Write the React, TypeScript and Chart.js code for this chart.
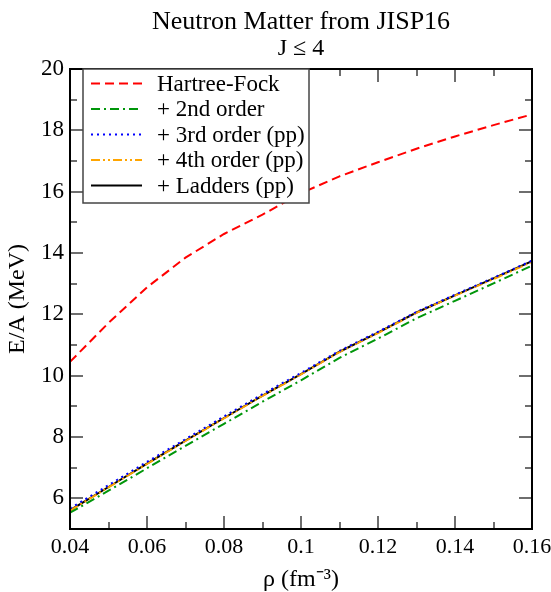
import React, { useEffect, useRef } from "react";
import { Chart, registerables } from "chart.js";

Chart.register(...registerables);

const density = [0.04, 0.05, 0.06, 0.07, 0.08, 0.09, 0.1, 0.11, 0.12, 0.13, 0.14, 0.15, 0.16];
const hartreeFock = [10.45, 11.72, 12.88, 13.85, 14.62, 15.25, 15.95, 16.5, 16.96, 17.4, 17.8, 18.17, 18.52];
const secondOrder = [5.53, 6.25, 6.98, 7.71, 8.43, 9.15, 9.85, 10.58, 11.21, 11.87, 12.44, 13.01, 13.59];
const thirdOrderPP = [5.67, 6.43, 7.19, 7.93, 8.67, 9.4, 10.09, 10.81, 11.43, 12.08, 12.64, 13.19, 13.75];
const fourthOrderPP = [5.6, 6.36, 7.12, 7.87, 8.61, 9.34, 10.04, 10.77, 11.39, 12.05, 12.61, 13.15, 13.71];
const laddersPP = [5.61, 6.37, 7.13, 7.88, 8.62, 9.35, 10.05, 10.78, 11.4, 12.06, 12.62, 13.17, 13.73];

const xTicks = [0.04, 0.06, 0.08, 0.1, 0.12, 0.14, 0.16];
const xMinorTicks = [0.05, 0.07, 0.09, 0.11, 0.13, 0.15];
const yTicks = [6, 8, 10, 12, 14, 16, 18, 20];
const yMinorTicks = [7, 9, 11, 13, 15, 17, 19];

const seriesLabels = ["Hartree-Fock", "+ 2nd order", "+ 3rd order (pp)", "+ 4th order (pp)", "+ Ladders (pp)"];
const seriesColors = ["#ff0000", "#00960a", "#0000ff", "#ffa500", "#000000"];
const seriesDashes: number[][] = [[9, 5], [9, 4, 2, 4], [2, 4], [9, 3, 2, 3, 2, 3], []];
const seriesValues = [hartreeFock, secondOrder, thirdOrderPP, fourthOrderPP, laddersPP];

const FONT = '"Liberation Serif", "Times New Roman", serif';

const framePlugin = {
  id: "frameTicks",
  afterDatasetsDraw(chart: any) {
    const { ctx, chartArea, scales } = chart;
    const { left, right, top, bottom } = chartArea;
    const x = scales.x;
    const y = scales.y;
    ctx.save();
    ctx.strokeStyle = "#6e6e6e";
    ctx.lineWidth = 2;
    const major = 13;
    const minor = 7;
    const vTick = (v: number, len: number) => {
      const px = Math.round(x.getPixelForValue(v));
      ctx.beginPath();
      ctx.moveTo(px, bottom);
      ctx.lineTo(px, bottom - len);
      ctx.moveTo(px, top);
      ctx.lineTo(px, top + len);
      ctx.stroke();
    };
    const hTick = (v: number, len: number) => {
      const py = Math.round(y.getPixelForValue(v));
      ctx.beginPath();
      ctx.moveTo(left, py);
      ctx.lineTo(left + len, py);
      ctx.moveTo(right, py);
      ctx.lineTo(right - len, py);
      ctx.stroke();
    };
    xTicks.forEach((v) => vTick(v, major));
    xMinorTicks.forEach((v) => vTick(v, minor));
    yTicks.forEach((v) => hTick(v, major));
    yMinorTicks.forEach((v) => hTick(v, minor));
    ctx.strokeStyle = "#000";
    ctx.lineWidth = 2;
    ctx.strokeRect(left, top, right - left, bottom - top);
    ctx.restore();
  },
  afterDraw(chart: any) {
    const { ctx, chartArea } = chart;
    const bx = chartArea.left + 13;
    const by = chartArea.top;
    const bw = 226;
    const bh = 134;
    ctx.save();
    ctx.fillStyle = "#fff";
    ctx.fillRect(bx, by, bw, bh);
    ctx.strokeStyle = "#444";
    ctx.lineWidth = 1.5;
    ctx.strokeRect(bx, by, bw, bh);
    ctx.font = `23px ${FONT}`;
    ctx.textBaseline = "middle";
    ctx.textAlign = "left";
    seriesLabels.forEach((label, i) => {
      const cy = by + 14.5 + i * 25.5;
      ctx.beginPath();
      ctx.strokeStyle = seriesColors[i];
      ctx.lineWidth = 2;
      ctx.setLineDash(seriesDashes[i]);
      ctx.moveTo(bx + 8, cy);
      ctx.lineTo(bx + 59, cy);
      ctx.stroke();
      ctx.setLineDash([]);
      ctx.fillStyle = "#000";
      ctx.fillText(label, bx + 74, cy + 1);
    });
    ctx.restore();
  },
};

export default function App() {
  const canvasRef = useRef<HTMLCanvasElement | null>(null);

  useEffect(() => {
    document.body.style.margin = "0";
    const canvas = canvasRef.current;
    if (!canvas) return;
    const datasets = seriesLabels.map((label, i) => ({
      label,
      data: density.map((d, j) => ({ x: d, y: seriesValues[i][j] })),
      borderColor: seriesColors[i],
      backgroundColor: seriesColors[i],
      borderWidth: 2,
      borderDash: seriesDashes[i],
      pointRadius: 0,
      tension: 0,
      fill: false,
    }));
    const chart = new Chart(canvas, {
      type: "line",
      data: { datasets },
      plugins: [framePlugin],
      options: {
        responsive: false,
        animation: false,
        layout: { padding: { left: 0, right: 19, top: 0, bottom: 0 } },
        plugins: {
          legend: { display: false },
          tooltip: { enabled: false },
          title: {
            display: true,
            fullSize: false,
            text: "Neutron Matter from JISP16",
            color: "#000",
            font: { family: FONT, size: 26, weight: "normal", lineHeight: 1.1 },
            padding: { top: 8, bottom: 0 },
          },
          subtitle: {
            display: true,
            fullSize: false,
            text: "J \u2264 4",
            color: "#000",
            font: { family: FONT, size: 24, weight: "normal", lineHeight: 1.0 },
            padding: { top: 0, bottom: 8.4 },
          },
        },
        scales: {
          x: {
            type: "linear",
            min: 0.04,
            max: 0.16,
            afterBuildTicks: (s: any) => {
              s.ticks = xTicks.map((v) => ({ value: v }));
            },
            afterFit: (s: any) => {
              s.height = 63;
              s.paddingLeft = 0;
              s.paddingRight = 0;
            },
            grid: { display: false, drawTicks: false },
            border: { display: false },
            ticks: {
              color: "#000",
              padding: 5,
              font: { family: FONT, size: 22 },
              maxRotation: 0,
              autoSkip: false,
              callback: (v: any) => String(Number(Number(v).toFixed(2))),
            },
            title: {
              display: true,
              text: "\u03C1 (fm\u207B\u00B3)",
              color: "#000",
              font: { family: FONT, size: 24, lineHeight: 1.0 },
              padding: { top: 0, bottom: 0 },
            },
          },
          y: {
            type: "linear",
            min: 5,
            max: 20,
            afterBuildTicks: (s: any) => {
              s.ticks = yTicks.map((v) => ({ value: v }));
            },
            afterFit: (s: any) => {
              s.width = 70;
            },
            grid: { display: false, drawTicks: false },
            border: { display: false },
            ticks: {
              color: "#000",
              padding: 6,
              font: { family: FONT, size: 23 },
              autoSkip: false,
            },
            title: {
              display: true,
              text: "E/A (MeV)",
              color: "#000",
              font: { family: FONT, size: 24, lineHeight: 1.0 },
              padding: { top: 6, bottom: 0 },
            },
          },
        },
      },
    });
    return () => chart.destroy();
  }, []);

  return (
    <div style={{ position: "absolute", left: 0, top: 0, width: 551, height: 592 }}>
      <canvas ref={canvasRef} width={551} height={592} style={{ width: 551, height: 592, display: "block" }} />
    </div>
  );
}
